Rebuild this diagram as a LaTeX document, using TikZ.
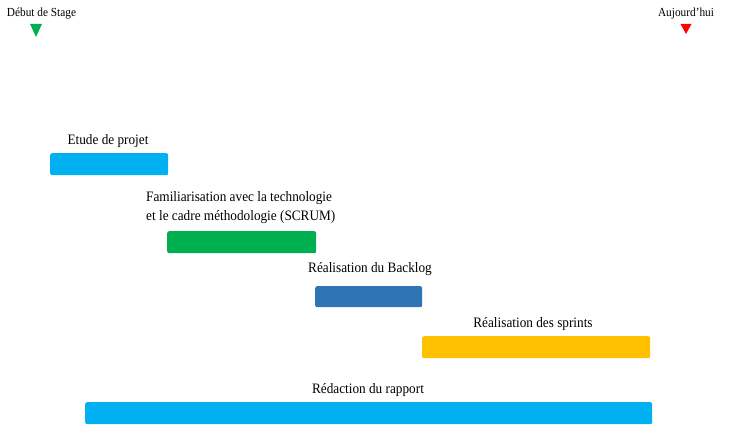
\documentclass[tikz,border=0pt]{standalone}
\usepackage{fontspec}
\setmainfont{Liberation Serif}[FakeStretch=0.92]
\definecolor{cyanbar}{HTML}{00B0F0}
\definecolor{greenbar}{HTML}{00B050}
\definecolor{bluebar}{HTML}{2E75B6}
\definecolor{yellowbar}{HTML}{FFC000}
\definecolor{redmark}{HTML}{FF0000}
\begin{document}
\begin{tikzpicture}[x=1pt,y=-1pt,
  bar/.style={rounded corners=2pt, inner sep=0pt, anchor=north west},
  lbl/.style={font=\fontsize{14.4}{19}\selectfont, inner sep=0pt, anchor=base},
  toplbl/.style={font=\fontsize{12.3}{15}\selectfont, inner sep=0pt, anchor=base}]
\useasboundingbox (0,0) rectangle (752,443);
% markers
\node[toplbl] (start) at (41.5,17) {Début de Stage};
\node[toplbl] (today) at (686,17) {Aujourd’hui};
\fill[greenbar] (30,24) -- (42,24) -- (36,37) -- cycle;
\fill[redmark] (680.5,24) -- (691.5,24) -- (686,34) -- cycle;
% bars
\node[bar, fill=cyanbar, minimum width=118pt, minimum height=22pt] (b1) at (50,153) {};
\node[bar, fill=greenbar, minimum width=149pt, minimum height=22pt] (b2) at (167,231) {};
\node[bar, fill=bluebar, minimum width=107pt, minimum height=21pt] (b3) at (315,286) {};
\node[bar, fill=yellowbar, minimum width=228pt, minimum height=22pt] (b4) at (422,336) {};
\node[bar, fill=cyanbar, minimum width=567pt, minimum height=22pt] (b5) at (85,402) {};
% labels
\node[lbl] (t1) at (108,145) {Etude de projet};
\node[lbl, anchor=base west, align=left] (t2) at (146,221) {Familiarisation avec la technologie\\et le cadre méthodologie (SCRUM)};
\node[lbl] (t3) at (370,273) {Réalisation du Backlog};
\node[lbl] (t4) at (533,328) {Réalisation des sprints};
\node[lbl] (t5) at (368,393) {Rédaction du rapport};
\end{tikzpicture}
\end{document}
